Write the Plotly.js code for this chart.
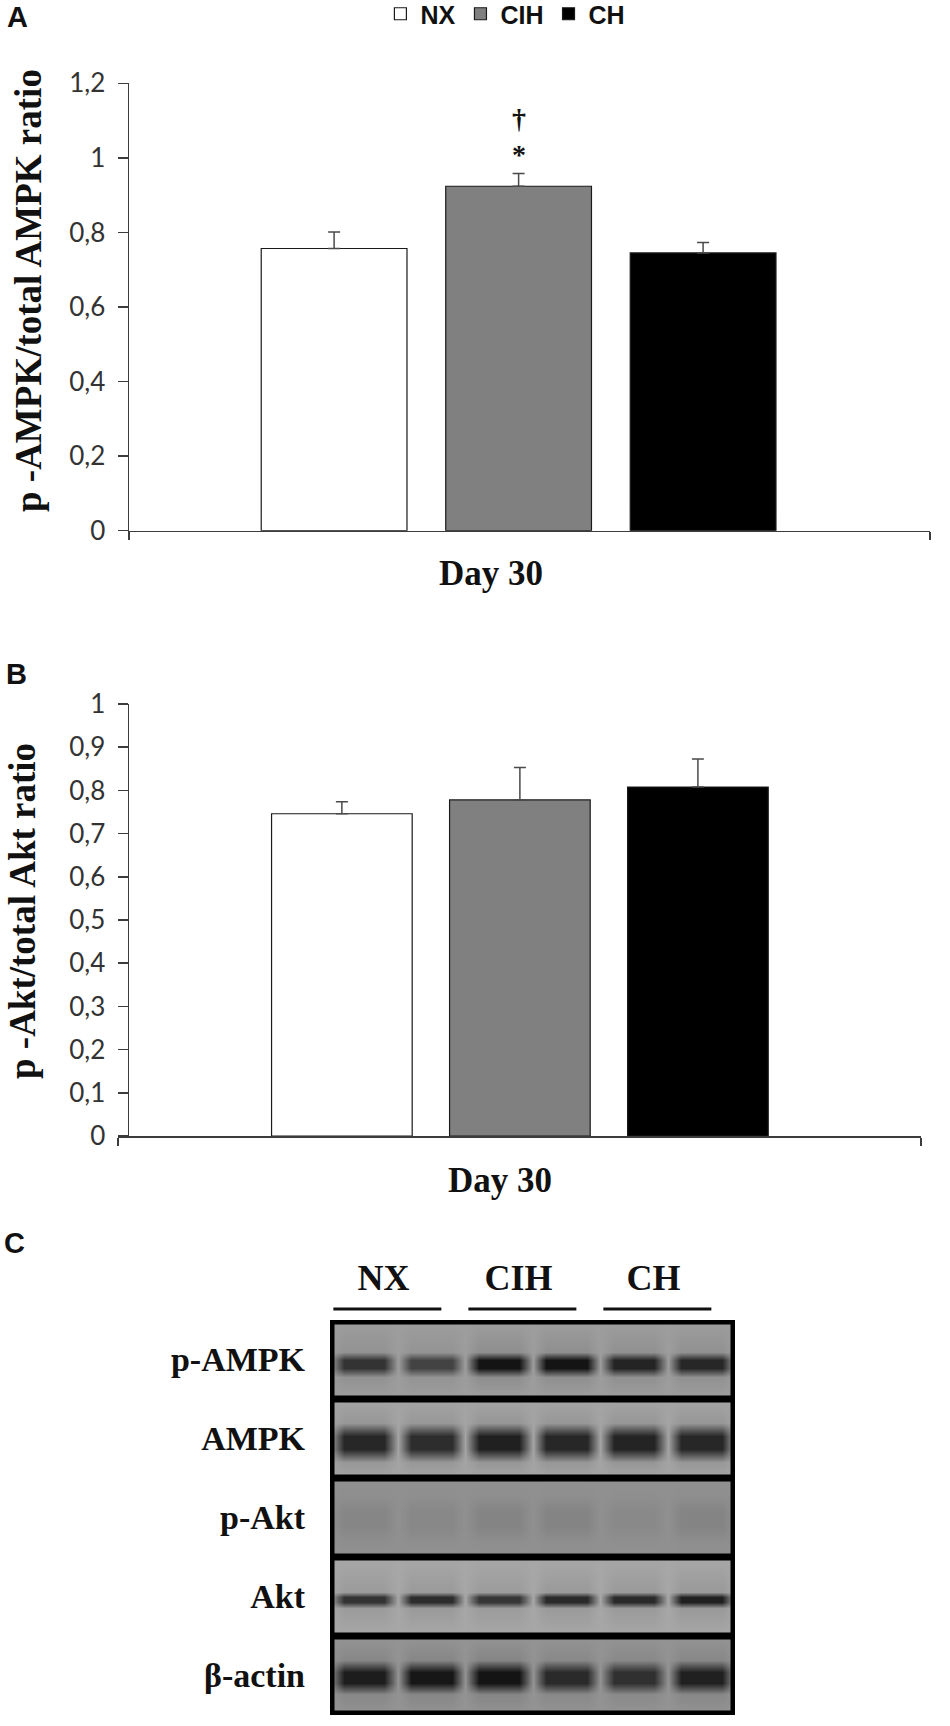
<!DOCTYPE html>
<html>
<head>
<meta charset="utf-8">
<script src="https://cdn.plot.ly/plotly-3.0.1.min.js"></script>
<style>
  html, body { margin: 0; padding: 0; background: #fff; }
  #plot { width: 950px; height: 1726px; }
</style>
</head>
<body>
<div id="plot"></div>
<script>
// groups and the single time point
var groups = ['NX', 'CIH', 'CH'];
var timePoint = ['Day 30'];

// panel A: p-AMPK / total AMPK (mean, upper SEM)
var ampkMean = [0.757, 0.924, 0.745];
var ampkErr = [0.044, 0.034, 0.028];

// panel B: p-Akt / total Akt
var aktMean = [0.746, 0.778, 0.808];
var aktErr = [0.028, 0.075, 0.065];

// panel C: western blot, band darkness per lane (0 = none, 1 = black)
var blotLanes = ['NX', 'NX', 'CIH', 'CIH', 'CH', 'CH'];
var blotProteins = ['p-AMPK', 'AMPK', 'p-Akt', 'Akt', 'β-actin'];
var bandPAMPK = [0.66, 0.56, 0.90, 0.86, 0.76, 0.74];
var bandAMPK = [0.78, 0.74, 0.82, 0.78, 0.80, 0.78];
var bandPAkt = [0.06, 0.05, 0.07, 0.07, 0.04, 0.07];
var bandAkt = [0.72, 0.76, 0.70, 0.78, 0.78, 0.84];
var bandActin = [0.74, 0.78, 0.88, 0.66, 0.62, 0.72];

var barFill = ['#ffffff', '#808080', '#000000'];
var serif = 'Liberation Serif, Times New Roman, serif';
var sans = 'Liberation Sans, Arial, sans-serif';
var tickFamily = 'Lato, Liberation Sans, sans-serif';

var data = [];

function barTraces(means, errs, xa, ya, legend) {
  groups.forEach(function (g, i) {
    data.push({
      type: 'bar',
      name: g,
      x: timePoint,
      y: [means[i]],
      xaxis: xa,
      yaxis: ya,
      showlegend: legend,
      marker: { color: barFill[i], line: { color: '#1a1a1a', width: 1.2 } },
      error_y: {
        type: 'data', symmetric: false, array: [errs[i]], arrayminus: [0],
        color: '#4a4a4a', thickness: 1.5, width: 6
      },
      hoverinfo: 'skip'
    });
  });
}

barTraces(ampkMean, ampkErr, 'x', 'y', true);
barTraces(aktMean, aktErr, 'x2', 'y2', false);

// blot drawn as a smoothed heatmap built from the band values
var blotBands = [bandPAMPK, bandAMPK, bandPAkt, bandAkt, bandActin];
var rowBg = [0.14, 0.10, 0.22, 0.08, 0.20];
var rowBand = [[0.56, 0.16], [0.55, 0.25], [0.52, 0.30], [0.54, 0.10], [0.52, 0.21]];

var hx = [], hxProfile = [];
blotLanes.forEach(function (l, i) {
  hx.push(i - 0.5, i - 0.3, i + 0.3);
  hxProfile.push(0, 1, 1);
});
hx.push(blotLanes.length - 0.5);
hxProfile.push(0);

var hy = [], hz = [];
blotBands.forEach(function (band, r) {
  var c = rowBand[r][0], h = rowBand[r][1];
  var pts = [0.02, c - h, c - h / 3, c + h / 3, c + h, 0.98];
  var prof = [0, 0.1, 1, 1, 0.1, 0];
  pts.forEach(function (p, k) {
    hy.push(r + p);
    hz.push(hx.map(function (xv, j) {
      var lane = Math.min(blotLanes.length - 1, Math.max(0, Math.round(xv)));
      return Math.min(1, rowBg[r] + band[lane] * prof[k] * hxProfile[j]);
    }));
  });
});

data.push({
  type: 'heatmap',
  x: hx,
  y: hy,
  z: hz,
  xaxis: 'x3',
  yaxis: 'y3',
  zmin: 0,
  zmax: 1,
  zsmooth: 'best',
  showscale: false,
  colorscale: [[0, '#b4b4b4'], [0.5, '#626262'], [1, '#141414']],
  hoverinfo: 'skip'
});

// group centres over the blot
function groupLanes(g) {
  var idx = [];
  blotLanes.forEach(function (l, i) { if (l === g) idx.push(i); });
  return idx;
}
var groupCenters = groups.map(function (g) {
  var idx = groupLanes(g);
  return (idx[0] + idx[idx.length - 1]) / 2;
});

var shapes = [];
groups.forEach(function (g) {
  var idx = groupLanes(g);
  shapes.push({
    type: 'line', xref: 'x3', yref: 'paper',
    x0: idx[0] - 0.45, x1: idx[idx.length - 1] + 0.15,
    y0: 1 - 1309 / 1726, y1: 1 - 1309 / 1726,
    line: { color: '#111', width: 3 }
  });
});
shapes.push({
  type: 'rect', xref: 'x3', yref: 'y3', x0: -0.5, x1: blotLanes.length - 0.5,
  y0: 0, y1: blotProteins.length, line: { color: '#000', width: 9 }, layer: 'above'
});
for (var r = 1; r < blotProteins.length; r++) {
  shapes.push({
    type: 'line', xref: 'x3', yref: 'y3', x0: -0.5, x1: blotLanes.length - 0.5,
    y0: r, y1: r, line: { color: '#000', width: 7 }, layer: 'above'
  });
}

function valueAxis(domain, top, step) {
  return {
    domain: domain,
    range: [0, top + 0.0001],
    tick0: 0,
    dtick: step,
    ticks: 'outside',
    ticklen: 10,
    tickwidth: 1.5,
    tickcolor: '#3c3c3c',
    ticklabelstandoff: 7,
    showline: true,
    linecolor: '#3c3c3c',
    linewidth: 1.5,
    showgrid: false,
    zeroline: false,
    tickfont: { family: tickFamily, size: 26, color: '#333' }
  };
}

function catAxis(domain, r0, r1, anchor) {
  return {
    domain: domain,
    anchor: anchor,
    type: 'category',
    range: [r0, r1],
    tickmode: 'array',
    tickvals: [r0, r1],
    ticktext: ['', ''],
    ticks: 'outside',
    ticklen: 8,
    tickwidth: 1.5,
    tickcolor: '#3c3c3c',
    showline: true,
    linecolor: '#3c3c3c',
    linewidth: 1.5,
    showgrid: false,
    zeroline: false
  };
}

function label(text, x, y, size, family, anchor, angle) {
  return {
    text: text, xref: 'paper', yref: 'paper', x: x / 950, y: 1 - y / 1726,
    xanchor: anchor || 'center', yanchor: 'middle', showarrow: false,
    textangle: angle || 0,
    font: { family: family, size: size, weight: 'bold', color: '#111' }
  };
}

var annotations = [
  label('A', 5, 17, 29, sans, 'left'),
  label('B', 4, 674, 29, sans, 'left'),
  label('C', 2, 1243, 29, sans, 'left'),
  label('p -AMPK/total AMPK ratio', 28, 291, 37, serif, 'center', -90),
  label('p -Akt/total Akt ratio', 22, 911, 37, serif, 'center', -90),
  label('Day 30', 491, 573, 35, serif),
  label('Day 30', 500, 1180, 35, serif),
  {
    // significance marks above the CIH bar (dagger over asterisk)
    text: '†<br>*',
    xref: 'x', yref: 'y', x: 0, y: ampkMean[1] + ampkErr[1],
    yanchor: 'bottom', yshift: 2, showarrow: false,
    font: { family: serif, size: 28, weight: 'bold', color: '#111' }
  }
];

var layout = {
  width: 950,
  height: 1726,
  margin: { l: 0, r: 0, t: 0, b: 0, autoexpand: false },
  paper_bgcolor: '#ffffff',
  plot_bgcolor: 'rgba(0,0,0,0)',
  separators: ', ',
  barmode: 'group',
  bargap: 0.309,
  bargroupgap: 0.21,
  showlegend: true,
  legend: {
    orientation: 'h',
    x: 0.532, xanchor: 'center',
    y: 1 - 14 / 1726, yanchor: 'middle',
    font: { family: sans, size: 25, weight: 'bold', color: '#111' },
    itemwidth: 30,
    traceorder: 'normal'
  },
  xaxis: catAxis([129 / 950, 930 / 950], -0.4864, 0.5136, 'y'),
  yaxis: valueAxis([1 - 530.7 / 1726, 1 - 83.3 / 1726], 1.2, 0.2),
  xaxis2: catAxis([118 / 950, 921 / 950], -0.520, 0.519, 'y2'),
  yaxis2: valueAxis([1 - 1136 / 1726, 1 - 704 / 1726], 1.0, 0.1),
  xaxis3: {
    domain: [330 / 950, 735 / 950], anchor: 'y3', side: 'top',
    range: [-0.5, blotLanes.length - 0.5],
    tickmode: 'array', tickvals: groupCenters, ticktext: groups, ticks: '',
    ticklabelstandoff: 22, ticklabelshift: -14,
    showgrid: false, zeroline: false, showline: false,
    tickfont: { family: serif, size: 36, weight: 'bold', color: '#111' }
  },
  yaxis3: {
    domain: [1 - 1715 / 1726, 1 - 1320 / 1726], anchor: 'x3',
    range: [blotProteins.length, 0],
    tickmode: 'array',
    tickvals: blotProteins.map(function (p, i) { return i + 0.5; }),
    ticktext: blotProteins,
    ticks: '', ticklabelstandoff: 24,
    showgrid: false, zeroline: false, showline: false,
    tickfont: { family: serif, size: 34, weight: 'bold', color: '#111' }
  },
  shapes: shapes,
  annotations: annotations
};

Plotly.newPlot('plot', data, layout, { staticPlot: true });
</script>
</body>
</html>
